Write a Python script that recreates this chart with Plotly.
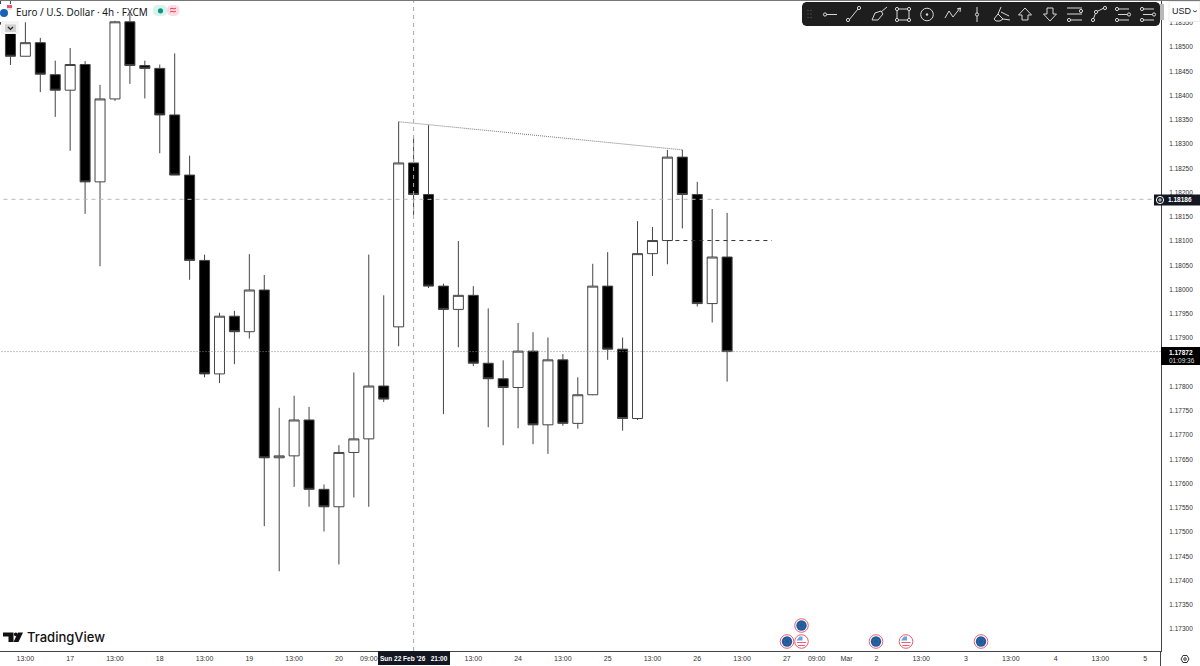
import plotly.graph_objects as go

# bars, index -1 hangs off the left edge
bar_index = list(range(-1, 49))
opens = [1.18620, 1.18547, 1.18481, 1.18509, 1.18443, 1.18411, 1.18464, 1.18222, 1.18393, 1.18552,
         1.18462, 1.18456, 1.18360, 1.18236, 1.18060, 1.17826, 1.17945, 1.17913, 1.17999, 1.17653,
         1.17657, 1.17731, 1.17588, 1.17552, 1.17664, 1.17692, 1.17801, 1.17923, 1.18261, 1.18196,
         1.18007, 1.17959, 1.17988, 1.17848, 1.17816, 1.17798, 1.17873, 1.17721, 1.17855, 1.17724,
         1.17783, 1.18007, 1.17877, 1.17734, 1.18074, 1.18101, 1.18273, 1.18196, 1.17971, 1.18067]
highs = [1.18640, 1.18607, 1.18551, 1.18519, 1.18472, 1.18498, 1.18471, 1.18422, 1.18554, 1.18568,
         1.18472, 1.18464, 1.18487, 1.18276, 1.18072, 1.17952, 1.17956, 1.18073, 1.18030, 1.17756,
         1.17781, 1.17758, 1.17598, 1.17679, 1.17829, 1.18072, 1.17988, 1.18346, 1.18314, 1.18339,
         1.18012, 1.18100, 1.18007, 1.17961, 1.17854, 1.17931, 1.17912, 1.17901, 1.17867, 1.17819,
         1.18053, 1.18077, 1.17901, 1.18141, 1.18129, 1.18288, 1.18288, 1.18222, 1.18166, 1.18158]
lows = [1.18530, 1.18463, 1.18481, 1.18407, 1.18356, 1.18286, 1.18156, 1.18048, 1.18389, 1.18424,
        1.18394, 1.18281, 1.18236, 1.18020, 1.17819, 1.17807, 1.17846, 1.17899, 1.17512, 1.17419,
        1.17593, 1.17552, 1.17501, 1.17433, 1.17571, 1.17552, 1.17768, 1.17883, 1.18154, 1.18003,
        1.17743, 1.17881, 1.17842, 1.17716, 1.17679, 1.17714, 1.17681, 1.17661, 1.17719, 1.17713,
        1.17782, 1.17855, 1.17709, 1.17731, 1.18028, 1.18052, 1.18126, 1.17965, 1.17932, 1.17810]
closes = [1.18547, 1.18481, 1.18509, 1.18444, 1.18411, 1.18464, 1.18222, 1.18393, 1.18552, 1.18462,
          1.18456, 1.18360, 1.18236, 1.18060, 1.17826, 1.17945, 1.17913, 1.17999, 1.17653, 1.17657,
          1.17731, 1.17588, 1.17552, 1.17664, 1.17692, 1.17801, 1.17774, 1.18261, 1.18196, 1.18007,
          1.17959, 1.17988, 1.17848, 1.17816, 1.17798, 1.17873, 1.17721, 1.17855, 1.17724, 1.17783,
          1.18007, 1.17877, 1.17734, 1.18074, 1.18101, 1.18273, 1.18196, 1.17971, 1.18067, 1.17872]

time_tick_pos = [1, 4, 7, 10, 13, 16, 19, 22, 24, 31, 34, 37, 40, 43, 46, 49, 52, 54, 56, 58, 61, 64, 67, 70, 73, 76]
time_tick_text = ["13:00", "17", "13:00", "18", "13:00", "19", "13:00", "20", "09:00", "13:00", "24", "13:00", "25",
                  "13:00", "26", "13:00", "27", "09:00", "Mar", "2", "13:00", "3", "13:00", "4", "13:00", "5"]
price_ticks = [1.17300, 1.17350, 1.17400, 1.17450, 1.17500, 1.17550, 1.17600, 1.17650, 1.17700, 1.17750, 1.17800,
               1.17850, 1.17900, 1.17950, 1.18000, 1.18050, 1.18100, 1.18150, 1.18200, 1.18250, 1.18300, 1.18350,
               1.18400, 1.18450, 1.18500, 1.18550]

bid_price = 1.18186
last_price = 1.17872
trend_x = [26, 45]
trend_y = [1.18346, 1.18288]
level_x = [44, 51]
level_price = 1.18101
cross_bar = 27

eu_events = [(787, 641.5), (801.5, 625.5), (876, 641.5), (981, 641.5)]
us_events = [(801.5, 641.5), (906, 641.5)]

W, H = 1200, 666
PLOT_R, PLOT_B = 1161, 651
INK = "#444444"
DARK = "#131722"
FONT = "Liberation Sans"


def px(x):
    return x / PLOT_R


def py(y):
    return (PLOT_B - y) / PLOT_B


shapes = []


def rect(x0, y0, x1, y1, fill, line=None, lw=0):
    shapes.append(dict(type="rect", xref="paper", yref="paper", x0=px(x0), x1=px(x1), y0=py(y1), y1=py(y0),
                       fillcolor=fill, line=dict(color=line or fill, width=lw), layer="above"))


def circle(cx, cy, r, fill="rgba(0,0,0,0)", line=None, lw=0):
    shapes.append(dict(type="circle", xref="paper", yref="paper", x0=px(cx - r), x1=px(cx + r), y0=py(cy + r), y1=py(cy - r),
                       fillcolor=fill, line=dict(color=line or fill, width=lw), layer="above"))


def poly(points, color="#d8d8d8", lw=1, fill=None):
    d = "M " + " L ".join(f"{px(x):.5f},{py(y):.5f}" for x, y in points)
    if fill:
        d += " Z"
    shapes.append(dict(type="path", xref="paper", yref="paper", path=d, fillcolor=fill or "rgba(0,0,0,0)",
                       line=dict(color=color, width=lw), layer="above"))


def round_rect(x0, y0, x1, y1, r, fill):
    pts = [(x0 + r, y0), (x1 - r, y0), (x1 - r * 0.3, y0 + r * 0.3), (x1, y0 + r), (x1, y1 - r), (x1 - r * 0.3, y1 - r * 0.3),
           (x1 - r, y1), (x0 + r, y1), (x0 + r * 0.3, y1 - r * 0.3), (x0, y1 - r), (x0, y0 + r), (x0 + r * 0.3, y0 + r * 0.3)]
    poly(pts, color=fill, lw=0, fill=fill)


def handle(x, y):
    circle(x, y, 1.6, fill="#1e1e1e", line="#d8d8d8", lw=1)


fig = go.Figure()
fig.add_trace(go.Candlestick(
    x=bar_index, open=opens, high=highs, low=lows, close=closes,
    increasing=dict(fillcolor="#ffffff", line=dict(color=INK, width=1)),
    decreasing=dict(fillcolor="#000000", line=dict(color=INK, width=1)),
    whiskerwidth=0, showlegend=False,
))

# price lines and crosshair
shapes.append(dict(type="line", xref="x", yref="y", x0=-1, x1=77.1, y0=bid_price, y1=bid_price,
                   line=dict(color="#b8b8b8", width=1, dash="4px,4px")))
shapes.append(dict(type="line", xref="x", yref="y", x0=-1, x1=77.1, y0=last_price, y1=last_price,
                   line=dict(color="#888888", width=1, dash="1px,2px")))
shapes.append(dict(type="line", xref="x", yref="paper", x0=cross_bar, x1=cross_bar, y0=0, y1=1,
                   line=dict(color="#a8a8a8", width=1, dash="4px,4px")))
shapes.append(dict(type="line", xref="x", yref="y", x0=trend_x[0], x1=trend_x[1], y0=trend_y[0], y1=trend_y[1],
                   line=dict(color="#777777", width=1, dash="1px,1px")))
shapes.append(dict(type="line", xref="x", yref="y", x0=level_x[0], x1=level_x[1], y0=level_price, y1=level_price,
                   line=dict(color="#333333", width=1, dash="4px,4px")))

# top border and spine below the plot
poly([(0, 0.5), (1200, 0.5)], color="#777777", lw=1)
poly([(1160.5, 651), (1160.5, 666)], color=INK, lw=1)

# legend corner: symbol icons, pills, collapse button
rect(0, 4, 12, 22, "#ffffff")
circle(4, 13, 4, fill="#1a62b8")
rect(7, 5, 12, 8, "#e8536b")
rect(7, 8, 12, 10, "#f4dede")
rect(1, 21, 19, 34, "#f4f4f4")
rect(5, 24.5, 16, 32, "#cfcfcf")
poly([(8, 27), (10.5, 29.5), (13, 27)], color="#222222", lw=1.2)
round_rect(153, 5, 167, 16, 4, "#daf2ee")
round_rect(167, 5, 179.5, 16, 4, "#fbdce5")
circle(160.5, 10.8, 2.6, fill="#089981")
poly([(170, 9), (172, 8.2), (174, 9), (176, 8.2)], color="#f23645", lw=1)
poly([(170, 12), (172, 11.2), (174, 12), (176, 11.2)], color="#f23645", lw=1)

# drawing toolbar
rect(1158, 4, 1164, 20, "#b8b8b8")
round_rect(802, 2, 1160, 26, 4, "#1e1e1e")
for gx in (808, 811):
    for gy in (10.5, 14, 17.5):
        rect(gx - 0.5, gy - 0.5, gx + 0.5, gy + 0.5, "#666666")
poly([(826, 14.5), (837, 14.5)])
handle(825, 14.5)
poly([(849, 20), (858, 9)])
handle(848, 20)
handle(859, 8)
poly([(872, 20), (875, 13), (881, 11), (883, 14), (878, 20), (872, 20)])
poly([(881, 12), (887, 7)])
rect(897, 9, 909, 20, "#1e1e1e", "#d8d8d8", 1)
for hx in (897, 909):
    for hy in (9, 20):
        handle(hx, hy)
circle(927, 14.5, 6.3, fill="#1e1e1e", line="#d8d8d8", lw=1)
circle(927, 14.5, 1.2, fill="#d8d8d8")
poly([(945, 18), (949, 11), (953, 17), (957, 12), (960, 8)])
poly([(957, 9), (960.5, 8), (960, 12)])
poly([(977, 7), (977, 22)])
handle(977, 14.5)
poly([(994, 19), (998, 14), (1003, 19), (1000, 21), (996, 21), (994, 19)])
poly([(998, 14), (1001, 7)])
poly([(1003, 19), (1010, 20)])
poly([(1001, 12), (1009, 16)])
poly([(1018.5, 15), (1025, 8), (1031.5, 15), (1028, 15), (1028, 20), (1022, 20), (1022, 15), (1018.5, 15)])
poly([(1043.5, 14), (1047, 14), (1047, 8), (1053, 8), (1053, 14), (1056.5, 14), (1050, 21), (1043.5, 14)])
for ly in (8, 14, 20):
    poly([(1067, ly), (1082, ly)])
handle(1081, 11)
handle(1069, 20)
poly([(1093, 20), (1096, 12), (1104, 8)])
handle(1093, 20)
handle(1096, 12)
handle(1105, 8)
for fork_x in (1116, 1141):
    for ly in (9, 14.5, 20):
        poly([(fork_x + 2, ly), (fork_x + 13, ly)])
        handle(fork_x + (13 if ly == 14.5 else 1), ly)

# currency box, it covers the top of the 1.18550 tick
rect(1169, 1.5, 1200, 21.5, "#ffffff", "#ececec", 1)
poly([(1193, 10.5), (1195, 12), (1197, 10.5)], color="#444444", lw=1)

# last price labels
rect(1154, 194.5, 1200, 205.5, DARK)
circle(1160, 200, 3.6, fill=DARK, line="#ffffff", lw=1)
poly([(1158, 200), (1162, 200)], color="#ffffff", lw=0.8)
poly([(1160, 198), (1160, 202)], color="#ffffff", lw=0.8)
rect(1161, 347, 1200, 365, "#000000")
rect(378, 651, 450, 665, DARK)

# calendar events
for ex, ey in eu_events:
    circle(ex, ey, 6.8, fill="#ffffff", line="#ef5a6f", lw=1)
    circle(ex, ey, 5.2, fill="#1a5aa8")
    circle(ex, ey, 2.8, fill="#1a5aa8", line="#4d6f6a", lw=0.8)
for ex, ey in us_events:
    circle(ex, ey, 6.8, fill="#ffffff", line="#ef5a6f", lw=1)
    poly([(ex - 5, ey - 1), (ex - 2, ey - 5), (ex + 1, ey - 5), (ex + 1, ey - 1)], color="#64a5ea", lw=0, fill="#64a5ea")
    rect(ex - 4.5, ey + 0.5, ex + 4.5, ey + 1.5, "#ef5a6f")
    rect(ex - 3.5, ey + 3.5, ex + 3.5, ey + 4.5, "#ef5a6f")

# watermark mark
poly([(3, 632.5), (13.5, 632.5), (13.5, 642), (8.5, 642), (8.5, 636.5), (3, 636.5)], color="#111111", lw=0, fill="#111111")
circle(15.8, 634.3, 1.9, fill="#111111")
poly([(18, 632.5), (23, 632.5), (18.5, 642), (13.5, 642)], color="#111111", lw=0, fill="#111111")

# settings icon
poly([(1181, 659), (1183, 655.5), (1187, 655.5), (1189, 659), (1187, 662.5), (1183, 662.5), (1181, 659)], color="#333333", lw=1)
circle(1185, 659, 1.3, line="#333333", lw=1)


def note(x, y, text, size=7, color="#131722", anchor="left", family=FONT, weight=None):
    return dict(xref="paper", yref="paper", x=px(x), y=py(y), text=text, showarrow=False, xanchor=anchor, yanchor="middle",
                font=dict(family=family, size=size, color=color, weight=weight), borderpad=0)


annotations = [
    note(15, 11.5, "Euro / U.S. Dollar · 4h · FXCM", size=9.9, family="Noto Sans"),
    note(25.5, 637.3, "TradingView", size=13, family="Inter", weight=500, color="#111111"),
    note(1171, 11, "USD", size=9),
    note(1167, 200, "1.18186", size=6.5, color="#ffffff", weight=700),
    note(1168, 352, "1.17872", size=6.5, color="#ffffff", weight=700),
    note(1168, 360, "01:09:36", size=6.5, color="#dddddd"),
    note(414, 658, "Sun 22 Feb '26 &nbsp; 21:00", size=6.5, color="#ffffff", anchor="center", weight=700),
]

fig.update_layout(
    width=W, height=H,
    margin=dict(l=0, r=W - PLOT_R, t=0, b=H - PLOT_B, pad=0),
    paper_bgcolor="#ffffff", plot_bgcolor="#ffffff",
    showlegend=False, boxgap=0.33, boxgroupgap=0,
    shapes=shapes, annotations=annotations,
    xaxis=dict(range=[-0.7, 77.06], rangeslider=dict(visible=False), tickmode="array", tickvals=time_tick_pos,
               ticktext=time_tick_text, tickfont=dict(family=FONT, size=7, color="#333333"), showgrid=False, zeroline=False,
               showline=True, linecolor=INK, linewidth=1, ticks="outside", ticklen=1, tickcolor="rgba(0,0,0,0)", tickangle=0),
    yaxis=dict(range=[1.172546, 1.18597], side="right", tickmode="array", tickvals=price_ticks,
               ticktext=[f"{p:.5f}" for p in price_ticks], tickfont=dict(family=FONT, size=6.5, color="#333333"),
               showgrid=False, zeroline=False, showline=True, linecolor=INK, linewidth=1, ticks="outside", ticklen=6,
               tickcolor="rgba(0,0,0,0)"),
)

# the default page has an 8px body margin that pushes the chart out of the window
fig.write_html("out.html", config={"displayModeBar": False},
               post_script="document.body.style.margin='0';document.body.style.overflow='hidden';")
